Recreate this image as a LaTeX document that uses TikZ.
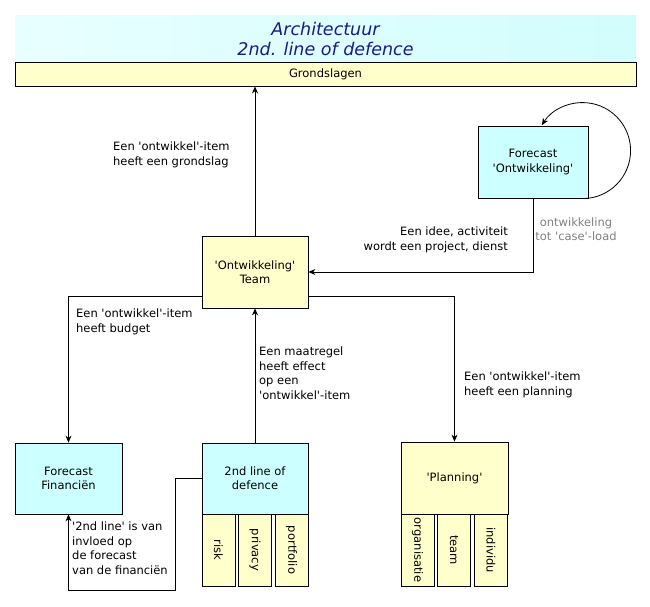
\documentclass[tikz,border=0pt]{standalone}
\usepackage{fontspec}
\setmainfont{DejaVu Sans}[Ligatures=TeXOff]
\usepackage{xcolor}
\usepackage{tikz}
\usetikzlibrary{arrows.meta, positioning, calc}

\definecolor{boxcyan}{HTML}{CCFFFF}
\definecolor{boxyellow}{HTML}{FFFFCC}
\definecolor{titleblue}{HTML}{1A1A8C}
\definecolor{bandleft}{HTML}{E8FFFF}
\definecolor{bandright}{HTML}{D2FDFD}

\begin{document}
\begin{tikzpicture}[
      x=1pt, y=1pt,
      every node/.style={font=\fontsize{11.5}{14.4}\selectfont, inner sep=1pt},
      box/.style={draw, line width=0.8pt, minimum width=#1, minimum height=72pt, align=center},
      box/.default=106pt,
      cbox/.style={box=#1, fill=boxcyan},
      cbox/.default=106pt,
      ybox/.style={box=#1, fill=boxyellow},
      ybox/.default=106pt,
      sub/.style={draw, line width=0.8pt, fill=boxyellow, minimum width=72pt, minimum height=33pt, rotate=-90},
      lbl/.style={align=left, anchor=north west, fill=white},
      arr/.style={-{Stealth[length=7pt, width=6pt]}, line width=0.8pt}
    ]
      \useasboundingbox (0,0) rectangle (650,-606);
      \node[minimum width=621pt, minimum height=47pt, left color=bandleft, right color=bandright,
            font=\fontsize{17.5}{20}\selectfont\itshape, text=titleblue, align=center]
            (title) at (325.5,-38.5) {Architectuur\\2nd. line of defence};
      \node[draw, line width=0.8pt, fill=boxyellow, minimum width=621pt, minimum height=24pt]
            (grond) at (325.5,-74) {Grondslagen};

      \node[cbox=110pt] (fcont) at (533,-162) {Forecast\\'Ontwikkeling'};
      \node[ybox] (team) at (255,-272) {'Ontwikkeling'\\Team};
      \node[cbox=107pt, minimum height=71pt] (ffin) at (68.5,-478.5) {Forecast\\Financiën};
      \node[cbox, minimum height=71pt] (tlod) at (255,-478.5) {2nd line of\\defence};
      \node[ybox=107pt] (plan) at (454.5,-478) {'Planning'};

      \node[sub] (risk) at (218.5,-550) {risk};
      \node[sub] (priv) at (255,-550) {privacy};
      \node[sub] (port) at (291.5,-550) {portfolio};
      \node[sub] (orga) at (417.5,-550) {organisatie};
      \node[sub] (tm) at (454,-550) {team};
      \node[sub] (indi) at (491,-550) {individu};

      \draw[arr] (team.north) -- (team.north |- grond.south);
      \draw[arr] (fcont.south) |- (team.east);
      \draw[arr] ([yshift=-24pt]team.west) -| (ffin.north);
      \draw[arr] ([yshift=-24pt]team.east) -| (plan.north);
      \draw[arr] (tlod.north) -- (team.south);
      \coordinate (bend) at (175,-590);
      \draw[arr] (tlod.west) -| (bend) -| (ffin.south);
      \draw[arr] ([xshift=-10pt]fcont.south east) arc[start angle=-95, end angle=148, radius=48];

      \node[lbl] (lgrond) at (112,-141) {Een 'ontwikkel'-item\\heeft een grondslag};
      \node[align=right, anchor=north east, fill=white] (lidee) at (509,-226) {Een idee, activiteit\\wordt een project, dienst};
      \node[align=center, text=gray] (lload) at (576,-229) {ontwikkeling\\tot 'case'-load};
      \node[lbl] (lbudget) at (75,-308) {Een 'ontwikkel'-item\\heeft budget};
      \node[lbl] (lmaat) at (258,-346) {Een maatregel\\heeft effect\\op een\\'ontwikkel'-item};
      \node[lbl] (lplan) at (463,-371) {Een 'ontwikkel'-item\\heeft een planning};
      \node[lbl] (linvl) at (71,-521) {'2nd line' is van\\invloed op\\de forecast\\van de financiën};
    \end{tikzpicture}
\end{document}
